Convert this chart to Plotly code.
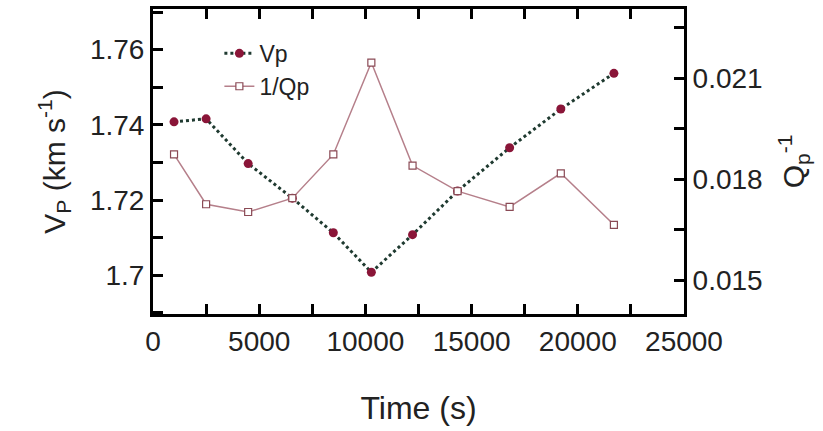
import plotly.graph_objects as go

time_s = [990, 2500, 4480, 6560, 8490, 10280, 12220, 14340, 16790, 19200, 21700]
vp = [1.7408, 1.7416, 1.7297, 1.7205, 1.7113, 1.7008, 1.7108, 1.7224, 1.7339, 1.7442, 1.7537]
inv_qp = [0.01874, 0.01726, 0.01703, 0.01744, 0.01874, 0.02147, 0.01841, 0.01765, 0.01718, 0.01818, 0.01665]

x_tickvals = [0, 5000, 10000, 15000, 20000, 25000]
x_ticktext = ["0", "5000", "10000", "15000", "20000", "25000"]
y1_tickvals = [1.70, 1.72, 1.74, 1.76]
y1_ticktext = ["1.7", "1.72", "1.74", "1.76"]
y2_tickvals = [0.015, 0.018, 0.021]
y2_ticktext = ["0.015", "0.018", "0.021"]

FONT = "Liberation Sans, Arial, sans-serif"

fig = go.Figure()
fig.add_trace(go.Scatter(
    x=time_s, y=vp, name="Vp", mode="lines+markers",
    line=dict(color="#1f3a30", width=3, dash="dot"),
    marker=dict(color="#8a1538", size=9, symbol="circle"),
    yaxis="y",
))
fig.add_trace(go.Scatter(
    x=time_s, y=inv_qp, name="1/Qp", mode="lines+markers",
    line=dict(color="#b57f8a", width=1.5),
    marker=dict(color="white", size=7, symbol="square",
                line=dict(color="#8a4a55", width=1.2)),
    yaxis="y2",
))

axis_common = dict(
    showline=True, linecolor="black", linewidth=3,
    ticks="inside", ticklen=10, tickwidth=2.5, tickcolor="black",
    showgrid=False, zeroline=False,
    tickfont=dict(family=FONT, size=28, color="#222"),
)

fig.update_layout(
    width=823, height=431,
    margin=dict(l=153, r=139, t=6, b=117),
    paper_bgcolor="white", plot_bgcolor="white",
    font=dict(family=FONT, color="#222"),
    showlegend=True,
    legend=dict(x=0.125, y=0.925, xanchor="left", yanchor="top",
                bgcolor="rgba(0,0,0,0)", font=dict(family=FONT, size=23),
                itemwidth=30, tracegroupgap=0),
    xaxis=dict(
        range=[0, 25000], tickvals=x_tickvals, ticktext=x_ticktext,
        mirror="allticks",
        minor=dict(dtick=2500, ticks="inside", ticklen=10, tickwidth=2.5, tickcolor="black"),
        title=dict(text="Time (s)", font=dict(family=FONT, size=32), standoff=42),
        **axis_common,
    ),
    yaxis=dict(
        range=[1.6897, 1.7708], tickvals=y1_tickvals, ticktext=y1_ticktext,
        minor=dict(dtick=0.01, tick0=1.70, ticks="inside", ticklen=10, tickwidth=2.5, tickcolor="black"),
        title=dict(text="V<sub>P</sub> (km s<sup>-1</sup>)", font=dict(family=FONT, size=30), standoff=16),
        **axis_common,
    ),
    yaxis2=dict(
        overlaying="y", side="right", anchor="x",
        range=[0.01400, 0.02306], tickvals=y2_tickvals, ticktext=y2_ticktext,
        minor=dict(dtick=0.0015, tick0=0.015, ticks="inside", ticklen=10, tickwidth=2.5, tickcolor="black"),
        title=dict(text="Q<sub>p</sub><sup>-1</sup>", font=dict(family=FONT, size=30), standoff=22),
        **axis_common,
    ),
)

fig.write_html("out.html")
